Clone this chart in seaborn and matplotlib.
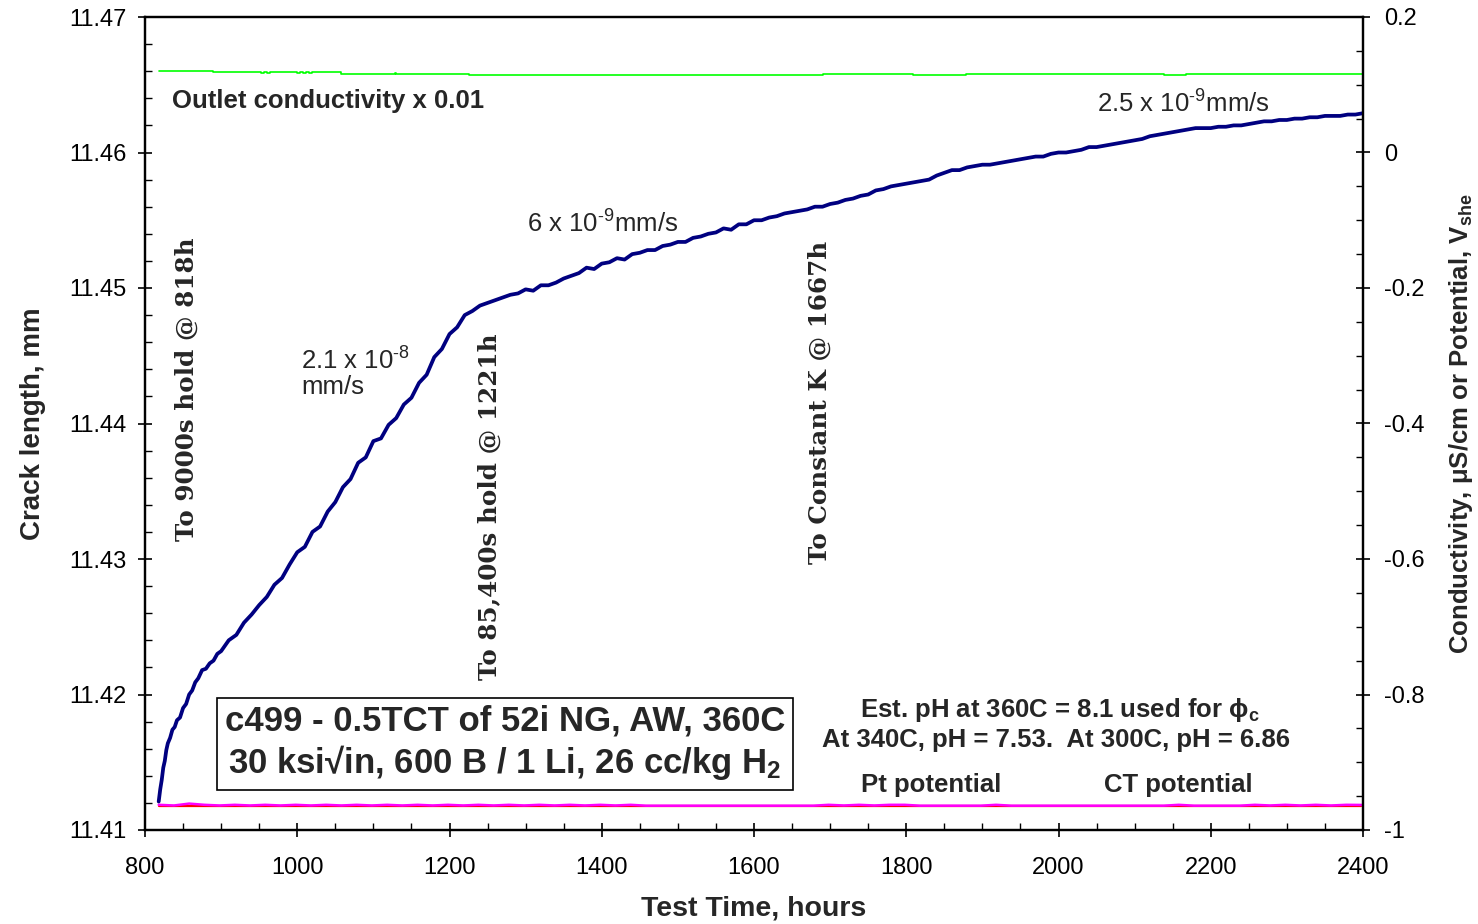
import numpy as np
import pandas as pd
import matplotlib
matplotlib.use("Agg")
import matplotlib.pyplot as plt
from matplotlib.ticker import MultipleLocator
import seaborn as sns

# ---- crack length vs. test time ----
crack_time = [818, 820, 822, 824, 826, 828, 830, 833, 836, 839, 842, 846, 850, 854,
              858, 862, 866, 870, 875, 880, 885, 890, 895, 900] + list(range(910, 2410, 10))
crack_len = [
    11.4121, 11.4130, 11.4137, 11.4146, 11.4151, 11.4159, 11.4164, 11.4168, 11.4174, 11.4176,
    11.4181, 11.4183, 11.4190, 11.4193, 11.4200, 11.4203, 11.4209, 11.4212, 11.4218, 11.4219,
    11.4223, 11.4225, 11.4230, 11.4232,
    # 910 .. 1000
    11.4240, 11.4244, 11.4253, 11.4259, 11.4266, 11.4272, 11.4281, 11.4286, 11.4296, 11.4305,
    # 1010 .. 1100
    11.4309, 11.4320, 11.4324, 11.4335, 11.4342, 11.4353, 11.4359, 11.4371, 11.4375, 11.4387,
    # 1110 .. 1200
    11.4389, 11.4399, 11.4404, 11.4414, 11.4419, 11.4430, 11.4436, 11.4449, 11.4455, 11.4466,
    # 1210 .. 1300
    11.4471, 11.4480, 11.4483, 11.4487, 11.4489, 11.4491, 11.4493, 11.4495, 11.4496, 11.4499,
    # 1310 .. 1400
    11.4498, 11.4502, 11.4502, 11.4504, 11.4507, 11.4509, 11.4511, 11.4515, 11.4514, 11.4518,
    # 1410 .. 1500
    11.4519, 11.4522, 11.4521, 11.4525, 11.4526, 11.4528, 11.4528, 11.4531, 11.4532, 11.4534,
    # 1510 .. 1600
    11.4534, 11.4537, 11.4538, 11.4540, 11.4541, 11.4544, 11.4543, 11.4547, 11.4547, 11.4550,
    # 1610 .. 1700
    11.4550, 11.4552, 11.4553, 11.4555, 11.4556, 11.4557, 11.4558, 11.4560, 11.4560, 11.4562,
    # 1710 .. 1800
    11.4563, 11.4565, 11.4566, 11.4568, 11.4569, 11.4572, 11.4573, 11.4575, 11.4576, 11.4577,
    # 1810 .. 1900
    11.4578, 11.4579, 11.4580, 11.4583, 11.4585, 11.4587, 11.4587, 11.4589, 11.4590, 11.4591,
    # 1910 .. 2000
    11.4591, 11.4592, 11.4593, 11.4594, 11.4595, 11.4596, 11.4597, 11.4597, 11.4599, 11.4600,
    # 2010 .. 2100
    11.4600, 11.4601, 11.4602, 11.4604, 11.4604, 11.4605, 11.4606, 11.4607, 11.4608, 11.4609,
    # 2110 .. 2200
    11.4610, 11.4612, 11.4613, 11.4614, 11.4615, 11.4616, 11.4617, 11.4618, 11.4618, 11.4618,
    # 2210 .. 2300
    11.4619, 11.4619, 11.4620, 11.4620, 11.4621, 11.4622, 11.4623, 11.4623, 11.4624, 11.4624,
    # 2310 .. 2400
    11.4625, 11.4625, 11.4626, 11.4626, 11.4627, 11.4627, 11.4627, 11.4628, 11.4628, 11.4629,
]

# ---- outlet conductivity (x 0.01), right axis ----
cond_time = [818, 888, 889, 950, 952, 956, 960, 964, 966, 998, 1000, 1004, 1008, 1012, 1016,
             1020, 1023, 1056, 1057, 1126, 1128, 1130, 1224, 1225, 1690, 1691, 1808, 1809,
             1877, 1878, 2137, 2138, 2166, 2167, 2300, 2302, 2304, 2355, 2360, 2366, 2372, 2400]
cond_val = [0.1210, 0.1210, 0.1188, 0.1188, 0.1175, 0.1188, 0.1175, 0.1188, 0.1188, 0.1188,
            0.1175, 0.1188, 0.1175, 0.1188, 0.1175, 0.1188, 0.1188, 0.1188, 0.1166, 0.1166,
            0.1178, 0.1166, 0.1166, 0.1151, 0.1151, 0.1166, 0.1166, 0.1151, 0.1151, 0.1166,
            0.1166, 0.1151, 0.1151, 0.1166, 0.1166, 0.1152, 0.1166, 0.1166, 0.1153, 0.1166,
            0.1154, 0.1160]

# ---- electrochemical potentials, right axis ----
pot_time = list(range(818, 2418, 20))
pt_pot = [
    -0.9628, -0.9638, -0.9610, -0.9628, -0.9638, -0.9628, -0.9638, -0.9628, -0.9638, -0.9628,
    -0.9638, -0.9628, -0.9638, -0.9628, -0.9638, -0.9628, -0.9638, -0.9628, -0.9638, -0.9628,
    -0.9638, -0.9628, -0.9638, -0.9628, -0.9638, -0.9628, -0.9638, -0.9628, -0.9638, -0.9628,
    -0.9638, -0.9628, -0.9641, -0.9641, -0.9641, -0.9641, -0.9641, -0.9641, -0.9641, -0.9641,
    -0.9641, -0.9641, -0.9641, -0.9641, -0.9628, -0.9638, -0.9628, -0.9638, -0.9628, -0.9628,
    -0.9641, -0.9641, -0.9641, -0.9641, -0.9641, -0.9628, -0.9641, -0.9641, -0.9641, -0.9641,
    -0.9641, -0.9641, -0.9641, -0.9641, -0.9641, -0.9641, -0.9641, -0.9628, -0.9641, -0.9641,
    -0.9641, -0.9641, -0.9628, -0.9638, -0.9628, -0.9638, -0.9628, -0.9638, -0.9628, -0.9630,
]
ct_pot = [-0.9643] * len(pot_time)

time_ticks = [800, 1000, 1200, 1400, 1600, 1800, 2000, 2200, 2400]
left_ticks = [11.41, 11.42, 11.43, 11.44, 11.45, 11.46, 11.47]
right_ticks = [-1, -0.8, -0.6, -0.4, -0.2, 0, 0.2]
right_labels = ["-1", "-0.8", "-0.6", "-0.4", "-0.2", "0", "0.2"]

sns.set_style("ticks")
plt.rcParams["font.family"] = ["Liberation Sans", "DejaVu Sans"]
plt.rcParams["mathtext.fontset"] = "custom"
plt.rcParams["mathtext.rm"] = "Liberation Sans"
plt.rcParams["mathtext.bf"] = "Liberation Sans:bold"
plt.rcParams["mathtext.it"] = "Liberation Sans:italic"

fig = plt.figure(figsize=(14.78, 9.24), dpi=100)
ax = fig.add_axes([145 / 1478, 1 - 830 / 924, (1363 - 145) / 1478, (830 - 17) / 924])
ax2 = ax.twinx()

crack_df = pd.DataFrame({"time": crack_time, "length": crack_len})
cond_df = pd.DataFrame({"time": cond_time, "value": cond_val})
pot_df = pd.DataFrame({"time": pot_time, "pt": pt_pot, "ct": ct_pot})

sns.lineplot(data=cond_df, x="time", y="value", ax=ax2, color="#00FF00", lw=1.2,
             estimator=None, sort=False, drawstyle="steps-post")
sns.lineplot(data=pot_df, x="time", y="ct", ax=ax2, color="#FF0000", lw=1.6, estimator=None)
sns.lineplot(data=pot_df, x="time", y="pt", ax=ax2, color="#FF00FF", lw=1.8, estimator=None)
sns.lineplot(data=crack_df, x="time", y="length", ax=ax, color="#000080", lw=2.7, estimator=None)
ax.set_zorder(ax2.get_zorder() + 1)
ax.patch.set_visible(False)

ax.set_xlim(800, 2400)
ax.set_ylim(11.41, 11.47)
ax2.set_ylim(-1, 0.2)

ax.set_xticks(time_ticks)
ax.set_xticklabels([str(t) for t in time_ticks])
ax.set_yticks(left_ticks)
ax.set_yticklabels([f"{v:.2f}" for v in left_ticks])
ax2.set_yticks(right_ticks)
ax2.set_yticklabels(right_labels)
ax.xaxis.set_minor_locator(MultipleLocator(50))
ax.yaxis.set_minor_locator(MultipleLocator(0.002))
ax2.yaxis.set_minor_locator(MultipleLocator(0.05))

for a in (ax, ax2):
    for s in a.spines.values():
        s.set_linewidth(1.6)
        s.set_color("black")
    a.tick_params(which="major", direction="inout", length=10, width=1.2,
                  labelsize=17, colors="black")
    a.tick_params(which="minor", direction="in", length=5, width=1.0, colors="black")
ax.tick_params(axis="x", which="major", pad=14.5)
ax.tick_params(axis="y", which="major", pad=8)
ax2.tick_params(axis="y", which="major", pad=10)

ax.set_xlabel("Test Time, hours", fontsize=20.5, fontweight="bold", labelpad=12)
ax.set_ylabel("Crack length, mm", fontsize=20, fontweight="bold", labelpad=17)
ax2.set_ylabel(r"Conductivity, $\mathbf{\mu}$S/cm or Potential, V$_{\mathbf{she}}$",
               fontsize=18.5, fontweight="bold", labelpad=16)

sup = dict(fontsize=18.5, va="center", ha="left")
# rate annotations
ax.text(835.5, 11.4638, "Outlet conductivity x 0.01", fontsize=18.5, fontweight="bold",
        va="center", ha="left")
ax.text(2050.6, 11.4636, "2.5 x 10$^{\\mathregular{\u2011}\\mathregular{9}}$mm/s", **sup)
ax.text(1301.8, 11.4547, "6 x 10$^{\\mathregular{\u2011}\\mathregular{9}}$mm/s", **sup)
ax.text(1005, 11.4437, "2.1 x 10$^{\\mathregular{\u2011}\\mathregular{8}}$\nmm/s",
        linespacing=1.05, **sup)

# test event markers
serif = ["DejaVu Serif"]
ax.text(855, 11.44255, "To 9000s hold @ 818h", rotation=90, fontsize=17.7, fontweight="bold",
        family=serif, ha="center", va="center")
ax.text(1253, 11.43387, "To 85,400s hold @ 1221h", rotation=90, fontsize=17.7,
        fontweight="bold", family=serif, ha="center", va="center")
ax.text(1686.7, 11.44155, "To Constant K @ 1667h", rotation=90, fontsize=17.7,
        fontweight="bold", family=serif, ha="center", va="center")

# specimen description box
ax.text(1273, 11.41642,
        "c499 - 0.5TCT of 52i NG, AW, 360C\n30 ksi\u221ain, 600 B / 1 Li, 26 cc/kg H$_{\\mathbf{2}}$",
        fontsize=25, fontweight="bold", ha="center", va="center", linespacing=1.2,
        bbox=dict(boxstyle="square,pad=0.23", fc="white", ec="black", lw=1.2))

note = dict(fontsize=18.5, fontweight="bold", ha="center", va="center")
ax.text(2002, 11.41886, r"Est. pH at 360C = 8.1 used for $\mathbf{\phi}_{\mathbf{c}}$", **note)
ax.text(1997, 11.41664, "At 340C, pH = 7.53.  At 300C, pH = 6.86", **note)
ax.text(1832.5, 11.41332, "Pt potential", **note)
ax.text(2157, 11.41332, "CT potential", **note)

fig.savefig("out.png", dpi=100)
